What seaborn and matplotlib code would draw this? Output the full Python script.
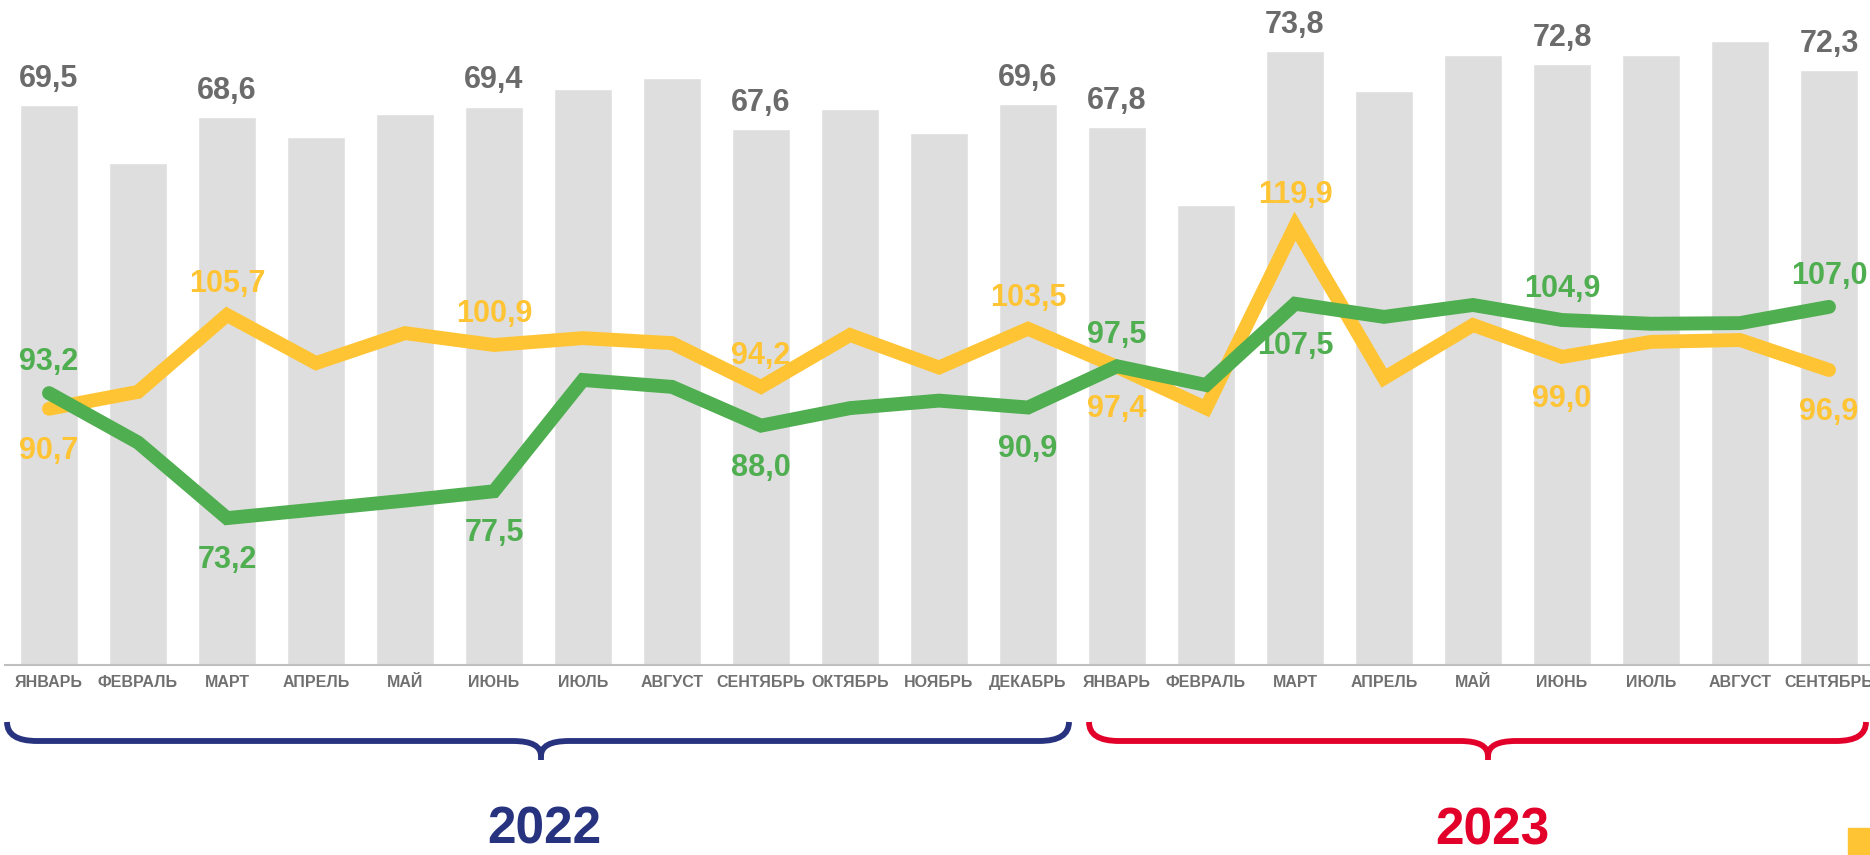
import numpy as np
import pandas as pd
import seaborn as sns
import matplotlib.pyplot as plt
from matplotlib.path import Path
from matplotlib.patches import PathPatch, Rectangle

# ---------------------------------------------------------
# data
# ---------------------------------------------------------
months = ["ЯНВАРЬ", "ФЕВРАЛЬ", "МАРТ", "АПРЕЛЬ", "МАЙ", "ИЮНЬ", "ИЮЛЬ",
          "АВГУСТ", "СЕНТЯБРЬ", "ОКТЯБРЬ", "НОЯБРЬ", "ДЕКАБРЬ",
          "ЯНВАРЬ", "ФЕВРАЛЬ", "МАРТ", "АПРЕЛЬ", "МАЙ", "ИЮНЬ", "ИЮЛЬ",
          "АВГУСТ", "СЕНТЯБРЬ"]
bar_vals = [69.5, 64.9, 68.6, 67.0, 68.8, 69.4, 70.8, 71.7, 67.6, 69.2, 67.3, 69.6,
            67.8, 61.6, 73.8, 70.6, 73.5, 72.8, 73.5, 74.6, 72.3]
yellow_vals = [90.7, 93.4, 105.7, 98.0, 102.8, 100.9, 102.0, 101.2, 94.2, 102.5, 97.3, 103.5,
               97.4, 90.8, 119.9, 95.6, 104.1, 99.0, 101.4, 101.7, 96.9]
green_vals = [93.2, 85.3, 73.2, 74.6, 76.0, 77.5, 95.3, 94.2, 88.0, 90.8, 92.0, 90.9,
              97.5, 94.5, 107.5, 105.4, 107.3, 104.9, 104.3, 104.4, 107.0]
labelled = [0, 2, 5, 8, 11, 12, 14, 17, 20]
yellow_above = [2, 5, 8, 11, 14]
years = ["2022", "2023"]

GREY_BAR = "#dedede"
GREY_TXT = "#6b6b6b"
YELLOW = "#ffc433"
GREEN = "#4fae4f"
NAVY = "#27337f"
RED = "#e2002a"

sns.set_style("white")
plt.rcParams["font.family"] = ["Liberation Sans", "DejaVu Sans"]
plt.rcParams["font.weight"] = "bold"

df = pd.DataFrame({"pos": np.arange(len(months)), "ratio": bar_vals,
                   "yellow": yellow_vals, "green": green_vals})

def fmt(v):
    return f"{v:.1f}".replace(".", ",")

fig = plt.figure(figsize=(18.7, 8.55), dpi=100)
ax = fig.add_axes([4.5 / 1870, 190 / 855, 1869 / 1870, 665 / 855])

# ---------------------------------------------------------
# bars
# ---------------------------------------------------------
sns.barplot(data=df, x="pos", y="ratio", color=GREY_BAR, saturation=1,
            width=0.65, ax=ax)
ax.set_ylim(25, 77.87)
for i in labelled:
    ax.annotate(fmt(bar_vals[i]), (i, bar_vals[i]), xytext=(0, 13),
                textcoords="offset points", ha="center", va="baseline",
                fontsize=22, fontweight="bold", color=GREY_TXT)

# ---------------------------------------------------------
# lines
# ---------------------------------------------------------
ax2 = ax.twinx()
sns.lineplot(data=df, x="pos", y="yellow", color=YELLOW, linewidth=10,
             solid_capstyle="round", solid_joinstyle="miter", ax=ax2)
sns.lineplot(data=df, x="pos", y="green", color=GREEN, linewidth=10,
             solid_capstyle="round", solid_joinstyle="miter", ax=ax2)
ax2.set_ylim(49.7, 156.1)

for i in labelled:
    up = i in yellow_above
    ax2.annotate(fmt(yellow_vals[i]), (i, yellow_vals[i]),
                 xytext=(0, 16.5 if up else -36), textcoords="offset points",
                 ha="center", va="baseline", fontsize=22, fontweight="bold",
                 color=YELLOW)
    ax2.annotate(fmt(green_vals[i]), (i, green_vals[i]),
                 xytext=(0, -36 if up else 16.5), textcoords="offset points",
                 ha="center", va="baseline", fontsize=22, fontweight="bold",
                 color=GREEN)

# ---------------------------------------------------------
# axes styling
# ---------------------------------------------------------
for a in (ax, ax2):
    for s in ("top", "left", "right"):
        a.spines[s].set_visible(False)
    a.set_yticks([])
    a.set_ylabel("")
    a.set_xlabel("")
ax2.spines["bottom"].set_visible(False)
ax.spines["bottom"].set_color("#bfbfbf")
ax.spines["bottom"].set_linewidth(1.5)
ax.set_xticks(range(len(months)))
ax.set_xticklabels(months)
ax.set_xticks(np.arange(-0.5, len(months)), minor=True)
ax.tick_params(axis="x", which="major", length=0, pad=7, labelsize=11.5,
               labelcolor="#707070")
ax.tick_params(axis="x", which="minor", length=3.6, width=1.2,
               color="#bfbfbf", direction="out")
for t in ax.get_xticklabels():
    t.set_fontweight("bold")
ax.set_xlim(-0.5, len(months) - 0.5)

# ---------------------------------------------------------
# braces, years
# ---------------------------------------------------------
ov = fig.add_axes([0, 0, 1, 1])
ov.set_xlim(0, 1870)
ov.set_ylim(855, 0)
ov.set_axis_off()

def brace(x0, x1, xt, color, ytop=722, yh=741, ytip=760):
    verts = [(x0, ytop), (x0, yh), (x0 + 30, yh),
             (xt - 28, yh), (xt, yh), (xt, ytip - 4), (xt, ytip),
             (xt, ytip - 4), (xt, yh), (xt + 28, yh),
             (x1 - 30, yh), (x1, yh), (x1, ytop)]
    codes = [Path.MOVETO, Path.CURVE3, Path.CURVE3,
             Path.LINETO, Path.CURVE3, Path.CURVE3, Path.LINETO,
             Path.MOVETO, Path.CURVE3, Path.CURVE3,
             Path.LINETO, Path.CURVE3, Path.CURVE3]
    ov.add_patch(PathPatch(Path(verts, codes), fill=False, edgecolor=color,
                           lw=4.2, capstyle="butt"))

brace(7, 1069, 541, NAVY)
brace(1089, 1866, 1488, RED)
ov.text(544, 854, years[0], ha="center", va="bottom", fontsize=37,
        fontweight="bold", color=NAVY)
ov.text(1492, 844, years[1], ha="center", va="baseline", fontsize=37,
        fontweight="bold", color=RED)
ov.add_patch(Rectangle((1848, 828), 24, 30, color=YELLOW))

fig.savefig("out.png", dpi=100)
